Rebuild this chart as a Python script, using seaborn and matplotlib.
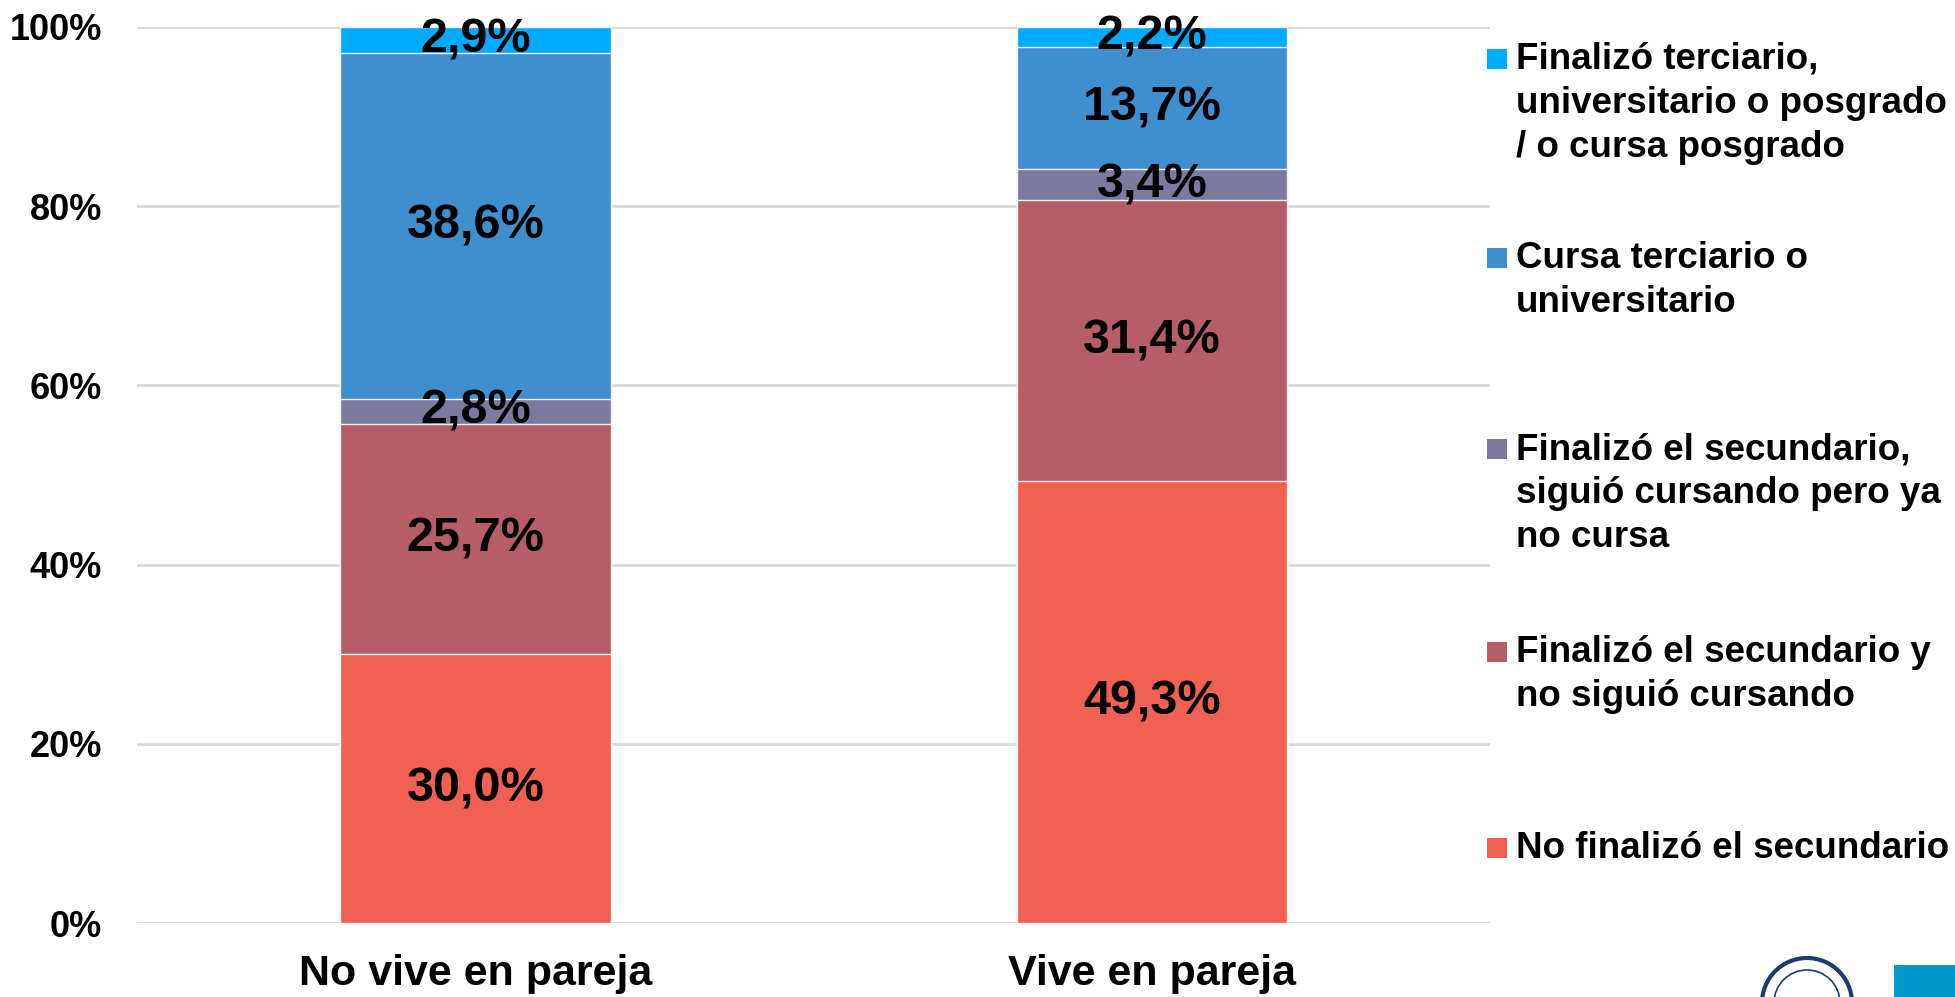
import numpy as np
import pandas as pd
import seaborn as sns
import matplotlib.pyplot as plt
from matplotlib.patches import Rectangle, Ellipse


# data (percent of each group)
groups = ['No vive en pareja', 'Vive en pareja']
levels = ['No finalizó el secundario',
          'Finalizó el secundario y\nno siguió cursando',
          'Finalizó el secundario,\nsiguió cursando pero ya\nno cursa',
          'Cursa terciario o\nuniversitario',
          'Finalizó terciario,\nuniversitario o posgrado\n/ o cursa posgrado']
no_vive = [30.0, 25.7, 2.8, 38.6, 2.9]
vive = [49.3, 31.4, 3.4, 13.7, 2.2]
colors = ['#F16153', '#B65D67', '#7C7A9F', '#3F8FCE', '#00AAFF']
yticks = [0, 20, 40, 60, 80, 100]

df = pd.DataFrame({'No vive en pareja': no_vive, 'Vive en pareja': vive},
                  index=levels)
cum = df.cumsum()

sns.set_style('white')
plt.rcParams['font.family'] = ['Liberation Sans', 'DejaVu Sans']
plt.rcParams['font.weight'] = 'bold'
plt.rcParams['text.color'] = 'black'
plt.rcParams['xtick.color'] = 'black'
plt.rcParams['ytick.color'] = 'black'

fig = plt.figure(figsize=(19.56, 9.97), dpi=100)
ax = fig.add_axes([0.070, 0.074, 0.692, 0.899])

# stacked bars: draw cumulative totals from the top layer down
for i in range(len(levels) - 1, -1, -1):
    sns.barplot(x=groups, y=cum.iloc[i].values, color=colors[i],
                saturation=1, width=0.4, edgecolor='#f2f2f2', linewidth=1,
                ax=ax, zorder=3)

# value labels centred in each segment
for j, g in enumerate(groups):
    bottoms = cum[g] - df[g]
    for i in range(len(levels)):
        v = df[g].iloc[i]
        ax.text(j, bottoms.iloc[i] + v / 2, f'{v:.1f}%'.replace('.', ','),
                ha='center', va='center', fontsize=35, fontweight='bold',
                color='black', zorder=5)

ax.set_xlim(-0.5, 1.5)
ax.set_ylim(0, 100)
ax.set_yticks(yticks)
ax.set_yticklabels([f'{t}%' for t in yticks], fontsize=26, fontweight='bold')
ax.tick_params(axis='y', length=0, pad=25)
ax.tick_params(axis='x', length=0, pad=22, labelsize=31)
for lab in ax.get_xticklabels():
    lab.set_fontweight('bold')
ax.set_xlabel('')
ax.set_ylabel('')
ax.yaxis.grid(True, color='#D9D9D9', linewidth=2, zorder=0)
ax.set_axisbelow(True)
sns.despine(ax=ax, left=True, bottom=True)

# legend, entries evenly spaced like the original
W, H = 1956, 997
top_y = [59, 258, 449, 652, 848]
for k, i in enumerate(range(len(levels) - 1, -1, -1)):
    y = top_y[k]
    fig.add_artist(Rectangle((1487 / W, 1 - (y + 10) / H), 20 / W, 20 / H,
                             transform=fig.transFigure,
                             facecolor=colors[i], edgecolor='none'))
    fig.text(1516 / W, 1 - (y - 17) / H, levels[i], ha='left', va='top',
             fontsize=26.5, fontweight='bold', linespacing=1.34,
             color='black')

# logo pieces in the lower right corner
fig.add_artist(Ellipse((1807 / W, 1 - 1003 / H), 90 / W, 90 / H,
                       transform=fig.transFigure, facecolor='white',
                       edgecolor='#1F3A6E', linewidth=3))
fig.add_artist(Ellipse((1807 / W, 1 - 1003 / H), 66 / W, 66 / H,
                       transform=fig.transFigure, facecolor='none',
                       edgecolor='#1F3A6E', linewidth=1.2))
fig.add_artist(Rectangle((1894 / W, 0), 62 / W, 32 / H,
                         transform=fig.transFigure,
                         facecolor='#0099CC', edgecolor='none'))

fig.savefig('out.png', dpi=100, facecolor='white')
